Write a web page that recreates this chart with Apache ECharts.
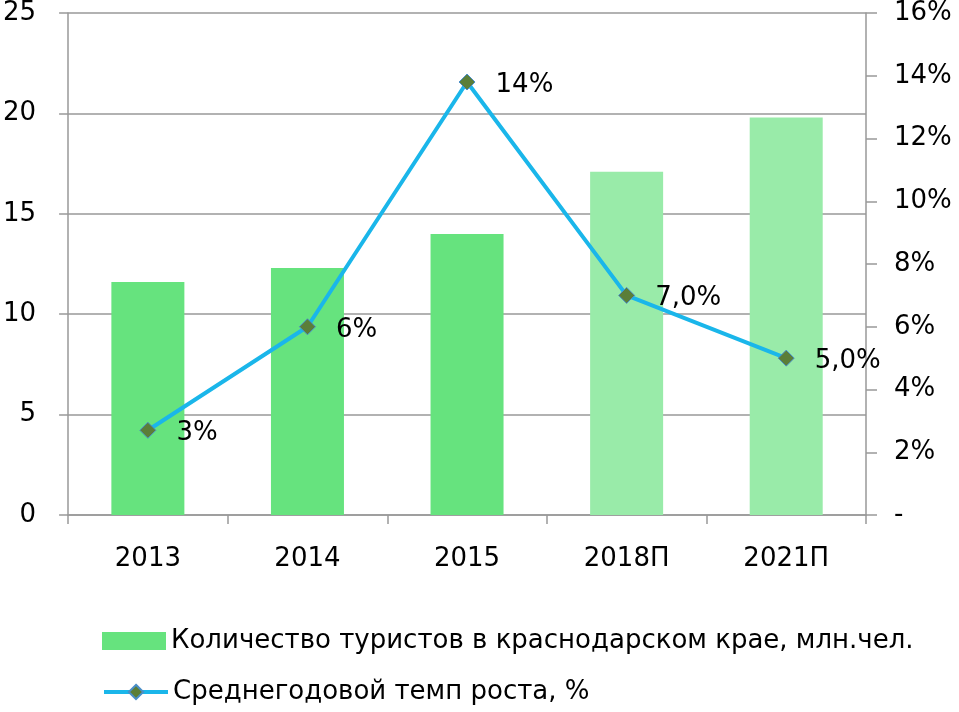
<!DOCTYPE html>
<html><head><meta charset="utf-8">
<script src="https://cdn.jsdelivr.net/npm/echarts@6/dist/echarts.min.js"></script>
<style>html,body{margin:0;padding:0;background:#fff}#c{width:959px;height:712px}</style>
</head><body><div id="c"></div>
<script>
const categories = ['2013', '2014', '2015', '2018П', '2021П'];
const tourists = [11.6, 12.3, 14.0, 17.1, 19.8];
const isForecast = [false, false, false, true, true];
const growth = [2.7, 6.0, 13.8, 7.0, 5.0];
const growthLabels = ['3%', '6%', '14%', '7,0%', '5,0%'];
const leftTicks = [0, 5, 10, 15, 20, 25];
const rightTickLabels = ['-', '2%', '4%', '6%', '8%', '10%', '12%', '14%', '16%'];
const barName = 'Количество туристов в краснодарском крае, млн.чел.';
const lineName = 'Среднегодовой темп роста, %';

const FONT = 'DejaVu Sans';
const legendBase = {
  orient: 'horizontal', left: 102, padding: 0,
  itemWidth: 64, itemHeight: 18,
  textStyle: { fontSize: 26, color: '#000', fontFamily: FONT }
};
const chart = echarts.init(document.getElementById('c'));
chart.setOption({
  animation: false,
  textStyle: { fontFamily: FONT },
  grid: { left: 66, right: 93, top: 12, bottom: 197, containLabel: false },
  legend: [
    Object.assign({}, legendBase, { top: 628, data: [{ name: barName, icon: 'rect' }] }),
    Object.assign({}, legendBase, { top: 679, data: [{ name: lineName, lineStyle: { width: 4, color: '#1AB6EA' } }] })
  ],
  xAxis: {
    type: 'category', data: categories,
    axisLine: { lineStyle: { color: '#999', width: 1.5 } },
    axisTick: { show: true, length: 9, alignWithLabel: false, lineStyle: { color: '#999', width: 1.5 } },
    axisLabel: { fontSize: 26, color: '#000', margin: 31, fontFamily: FONT }
  },
  yAxis: [{
    type: 'value', min: 0, max: 25, interval: 5,
    axisLine: { show: true, lineStyle: { color: '#999', width: 1.5 } },
    axisTick: { show: true, length: 9, lineStyle: { color: '#999', width: 1.5 } },
    splitLine: { lineStyle: { color: '#999', width: 1.5 } },
    axisLabel: { fontSize: 26, color: '#000', margin: 32, fontFamily: FONT,
      formatter: v => leftTicks.includes(v) ? String(v) : '' }
  }, {
    type: 'value', min: 0, max: 16, interval: 2, position: 'right',
    axisLine: { show: true, lineStyle: { color: '#999', width: 1.5 } },
    axisTick: { show: true, length: 11, lineStyle: { color: '#999', width: 1.5 } },
    splitLine: { show: false },
    axisLabel: { fontSize: 26, color: '#000', margin: 28, fontFamily: FONT,
      formatter: v => rightTickLabels[Math.round(v / 2)] }
  }],
  series: [{
    name: barName,
    type: 'bar', yAxisIndex: 0, barWidth: 73,
    itemStyle: { color: '#66E37E' },
    data: tourists.map((v, i) => ({ value: v, itemStyle: { color: isForecast[i] ? '#99EBA9' : '#66E37E' } }))
  }, {
    name: lineName,
    type: 'line', yAxisIndex: 1,
    data: growth,
    lineStyle: { color: '#1AB6EA', width: 4 },
    itemStyle: { color: '#5B7E38', borderColor: '#4A8EC8', borderWidth: 1 },
    symbol: 'diamond', symbolSize: 16,
    label: { show: true, position: 'right', distance: 20, offset: [0, 3], fontSize: 26, color: '#000', fontFamily: FONT,
      formatter: p => growthLabels[p.dataIndex] }
  }]
});
</script></body></html>
